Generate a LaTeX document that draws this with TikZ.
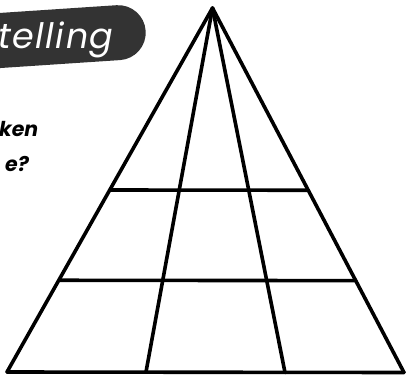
\documentclass[tikz,border=0pt]{standalone}
\usepackage{fontspec}
\usetikzlibrary{calc}
\newfontfamily\popfont{Poppins}
\newfontfamily\popwide[LetterSpace=4]{Poppins}
\begin{document}
\begin{tikzpicture}[x=1pt,y=1pt,
  edge/.style={line width=3.6pt,line cap=round,black},
  bannertext/.style={font=\popwide\itshape\fontsize{35}{35}\selectfont,text=white,inner sep=0pt},
  qtext/.style={font=\popfont\bfseries\itshape\fontsize{20.5}{20.5}\selectfont,text=black,inner sep=0pt}]
\useasboundingbox (0,0) rectangle (410,376);
\clip (0,0) rectangle (410,376);
% banner
\begin{scope}[shift={(0,335.5)},rotate=3.8]
  \fill[fill=black!80,rounded corners=27.5pt] (-60,-27.5) rectangle (146,27.5);
  \node[bannertext,anchor=base west] (title) at (-2,-8) {telling};
\end{scope}
\node[qtext,anchor=base east] (q1) at (38.5,240) {ken};
\node[qtext,anchor=base east] (q2) at (29,205) {e?};
% triangle points
\coordinate (A) at (212.5,368);
\coordinate (BL) at (7,4);
\coordinate (BR) at (404,3.5);
\coordinate (M1) at (146,4);
\coordinate (M2) at (285,3.5);
\coordinate (L1) at ($(A)!0.5!(BL)$);
\coordinate (R1) at ($(A)!0.5!(BR)$);
\coordinate (L2) at ($(A)!0.748!(BL)$);
\coordinate (R2) at ($(A)!0.748!(BR)$);
\draw[edge] (A) -- (BL);
\draw[edge] (A) -- (BR);
\draw[edge] (A) -- (M1);
\draw[edge] (A) -- (M2);
\draw[edge] (BL) -- (BR);
\draw[edge] (L1) -- (R1);
\draw[edge] (L2) -- (R2);
\end{tikzpicture}
\end{document}
